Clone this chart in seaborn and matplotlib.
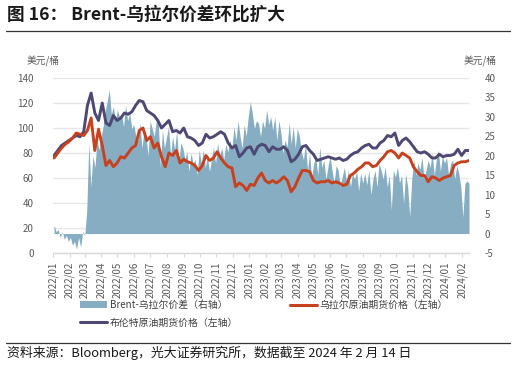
import numpy as np
import pandas as pd
import matplotlib
matplotlib.use("Agg")
import matplotlib.pyplot as plt
import matplotlib.dates as mdates
from matplotlib.lines import Line2D
from matplotlib.patches import Patch
import seaborn as sns

title = "图 16： Brent-乌拉尔价差环比扩大"
source = "资料来源：Bloomberg，光大证券研究所，数据截至 2024 年 2 月 14 日"
unit = "美元/桶"
spread_label = "Brent-乌拉尔价差（右轴）"
urals_label = "乌拉尔原油期货价格（左轴）"
brent_label = "布伦特原油期货价格（左轴）"

# weekly Brent futures price (USD/bbl), 2022-01-03 .. 2024-02-14
brent = [78, 82, 86, 88, 90,
         92, 94, 93, 97,
         118, 128, 112, 106, 120,
         104, 102, 110, 106, 108,
         112, 111, 113, 118,
         122, 121, 114, 112,
         110, 106, 100, 103, 106,
         97, 98, 96, 100,
         93, 92, 90, 86, 88,
         95, 92, 93, 95,
         97, 95, 88, 84,
         86, 77, 80, 84, 85,
         79, 85, 87, 86,
         81, 85, 83, 83,
         85, 82, 73, 75, 79,
         85, 86, 82, 79,
         74, 75, 76, 77,
         76, 75, 76, 74, 75,
         78, 80, 81, 84,
         86, 87, 84, 84,
         88, 90, 94, 93, 96,
         86, 90, 92, 89,
         85, 81, 80, 81,
         79, 76, 76, 79, 77,
         78, 78, 79, 83,
         78, 82, 82]

# weekly Urals futures price (USD/bbl)
urals = [76, 80, 84, 87, 89,
         92, 96, 95, 94,
         98, 108, 82, 99, 86,
         70, 74, 69, 72, 77,
         76, 80, 84, 86,
         98, 100, 90, 93,
         84, 88, 77, 69, 80,
         78, 82, 72, 75,
         73, 72, 70, 66, 70,
         78, 74, 76, 81,
         76, 72, 69, 68,
         53, 56, 54, 50, 55,
         54, 60, 64, 58,
         56, 58, 56, 58,
         61, 58, 49, 53, 60,
         66, 66, 65, 58,
         56, 57, 57, 58,
         56, 57, 56, 54, 55,
         62, 64, 67, 69,
         72, 72, 69, 70,
         74, 77, 81, 82, 80,
         76, 80, 78, 76,
         69, 65, 62, 62,
         57, 61, 60, 58, 60,
         61, 62, 70, 72,
         73, 73, 74]

# Brent-Urals spread (USD/bbl), ~twice weekly
spread = [2.2, 0.5, 1.0, -1.0, 0.5, -1.5, -0.5, -2.0,
          -1.0, -3.0, -2.0, -4.0, -1.0, -3.5, 0.5, -0.5,
          6.0, 23.5, 12.0, 20.0, 17.0, 24.0, 21.5, 25.0,
          27.5, 31.5, 34.0, 37.0, 30.7, 32.6, 29.0, 31.8,
          30.0, 30.7, 27.5, 33.0, 29.0, 31.0, 27.0, 28.0,
          25.0, 24.0, 28.4, 22.0, 26.6, 24.8, 20.0, 29.0,
          27.0, 25.0, 29.0, 28.4, 17.0, 26.6, 22.0, 24.8,
          27.5, 20.0, 25.0, 21.5, 26.6, 18.0, 23.3, 22.0,
          19.0, 21.0, 16.0, 20.7, 18.0, 19.0, 15.0, 21.5,
          18.0, 21.5, 17.0, 19.9, 16.0, 19.0, 22.3, 18.0,
          23.3, 20.0, 22.0, 19.0, 23.0, 21.0, 24.0, 22.0,
          27.5, 24.0, 29.0, 25.0, 22.0, 28.0, 25.0, 30.0,
          33.9, 30.9, 27.0, 29.0, 28.4, 25.0, 29.0, 27.0,
          31.8, 28.0, 30.0, 26.6, 30.0, 24.0, 29.0, 25.8,
          20.7, 24.0, 22.3, 28.4, 23.0, 27.5, 22.0, 27.0,
          25.0, 21.0, 19.0, 23.0, 16.3, 20.7, 14.0, 18.1,
          19.6, 15.0, 22.2, 17.0, 18.9, 14.0, 17.2, 20.0,
          16.3, 13.0, 17.5, 16.3, 12.0, 14.6, 17.0, 13.5,
          16.3, 12.0, 15.5, 14.0, 16.0, 11.0, 15.5, 13.0,
          15.5, 12.5, 16.3, 10.0, 14.0, 16.3, 12.0, 18.1,
          16.3, 14.0, 17.2, 12.0, 15.0, 6.1, 16.3, 14.5,
          17.2, 13.0, 15.0, 7.8, 15.5, 12.0, 4.3, 14.0,
          18.9, 15.0, 18.1, 16.5, 19.6, 14.0, 16.3, 18.9,
          17.0, 20.7, 15.0, 19.0, 21.5, 16.0, 20.0, 18.1,
          19.6, 15.0, 18.0, 19.0, 14.0, 17.5, 15.5, 12.0,
          4.2, 12.9, 13.5, 12.9]

start, end = "2022-01-03", "2024-02-14"
line_dates = pd.date_range(start, end, periods=len(brent))
spread_dates = pd.date_range(start, end, periods=len(spread))
month_ticks = pd.date_range("2022-01-01", "2024-02-01", freq="MS")
left_ticks = list(range(0, 141, 20))
right_ticks = list(range(-5, 41, 5))

c_area = "#86ADC1"
c_red = "#C8411E"
c_purple = "#4E4874"
c_text = "#595959"

sns.set_theme(style="white")
plt.rcParams["font.family"] = ["Noto Sans CJK SC", "DejaVu Sans"]
plt.rcParams["axes.unicode_minus"] = False

fig = plt.figure(figsize=(5.16, 3.66), dpi=100)
W, H = 516, 366
ax = fig.add_axes([53 / W, 1 - 253 / H, (469 - 53) / W, (253 - 78) / H])
ax_area = ax.twinx()
ax_line = ax.twinx()

# base axis: grid, left ticks, x ticks
ax.set_ylim(0, 140)
ax.set_yticks(left_ticks)
ax.set_xlim(pd.Timestamp("2022-01-01"), pd.Timestamp("2024-02-14"))
ax.set_xticks(month_ticks)
ax.xaxis.set_major_formatter(mdates.DateFormatter("%Y/%m"))
ax.grid(axis="y", color="#E6E6E6", lw=1.0)
ax.grid(axis="x", visible=False)
for s in ["top", "left", "right"]:
    ax.spines[s].set_visible(False)
ax.spines["bottom"].set_color("#D9D9D9")
ax.spines["bottom"].set_linewidth(1.0)
ax.tick_params(axis="x", bottom=True, length=3, width=0.8, color="#D9D9D9",
               labelsize=7, labelcolor=c_text, pad=3, labelrotation=90)
ax.tick_params(axis="y", left=False, labelsize=7, labelcolor=c_text, pad=8)

# spread area on right axis
ax_area.fill_between(spread_dates, spread, 0, color=c_area, lw=0)
ax_area.set_ylim(-5, 40)
ax_area.set_yticks(right_ticks)
ax_area.tick_params(axis="y", right=False, labelsize=7, labelcolor=c_text, pad=5)
for s in ax_area.spines.values():
    s.set_visible(False)

# price lines on left scale
df = pd.DataFrame({"date": line_dates, "brent": brent, "urals": urals})
sns.lineplot(data=df, x="date", y="brent", ax=ax_line, color=c_purple, lw=2.1, legend=False)
sns.lineplot(data=df, x="date", y="urals", ax=ax_line, color=c_red, lw=2.1, legend=False)
ax_line.set_ylim(0, 140)
ax_line.set_yticks([])
ax_line.set_ylabel("")
ax_line.set_xlabel("")
ax.set_xlabel("")
ax_area.set_ylabel("")
for s in ax_line.spines.values():
    s.set_visible(False)
ax_line.set_xlim(ax.get_xlim())

# unit labels
fig.text(43 / W, 1 - 61 / H, unit, fontsize=7, color=c_text, ha="center", va="center")
fig.text(480 / W, 1 - 61 / H, unit, fontsize=7, color=c_text, ha="center", va="center")

# title & footer
fig.text(7 / W, 1 - 15 / H, title, fontsize=12.7, fontweight="bold", color="#1a1a1a",
         ha="left", va="center")
fig.add_artist(Line2D([6 / W, 510 / W], [1 - 31 / H] * 2, color="#333333", lw=0.9))
fig.add_artist(Line2D([6 / W, 510 / W], [1 - 343 / H] * 2, color="#333333", lw=0.9))
fig.text(7 / W, 1 - 353 / H, source, fontsize=9.3, color="#1a1a1a", ha="left", va="center")

# legend
handles = [Patch(facecolor=c_area, edgecolor="none"),
           Line2D([], [], color=c_purple, lw=2.2),
           Line2D([], [], color=c_red, lw=2.2)]
labels = [spread_label, brent_label, urals_label]
fig.legend(handles, labels, ncol=2, loc="upper left",
           bbox_to_anchor=(80 / W, 1 - 300 / H), frameon=False, fontsize=7.1,
           labelcolor="#404040", handlelength=2.7, handletextpad=0.3,
           columnspacing=5.3, labelspacing=0.75, borderpad=0, borderaxespad=0)

fig.savefig("out.png", dpi=100)
